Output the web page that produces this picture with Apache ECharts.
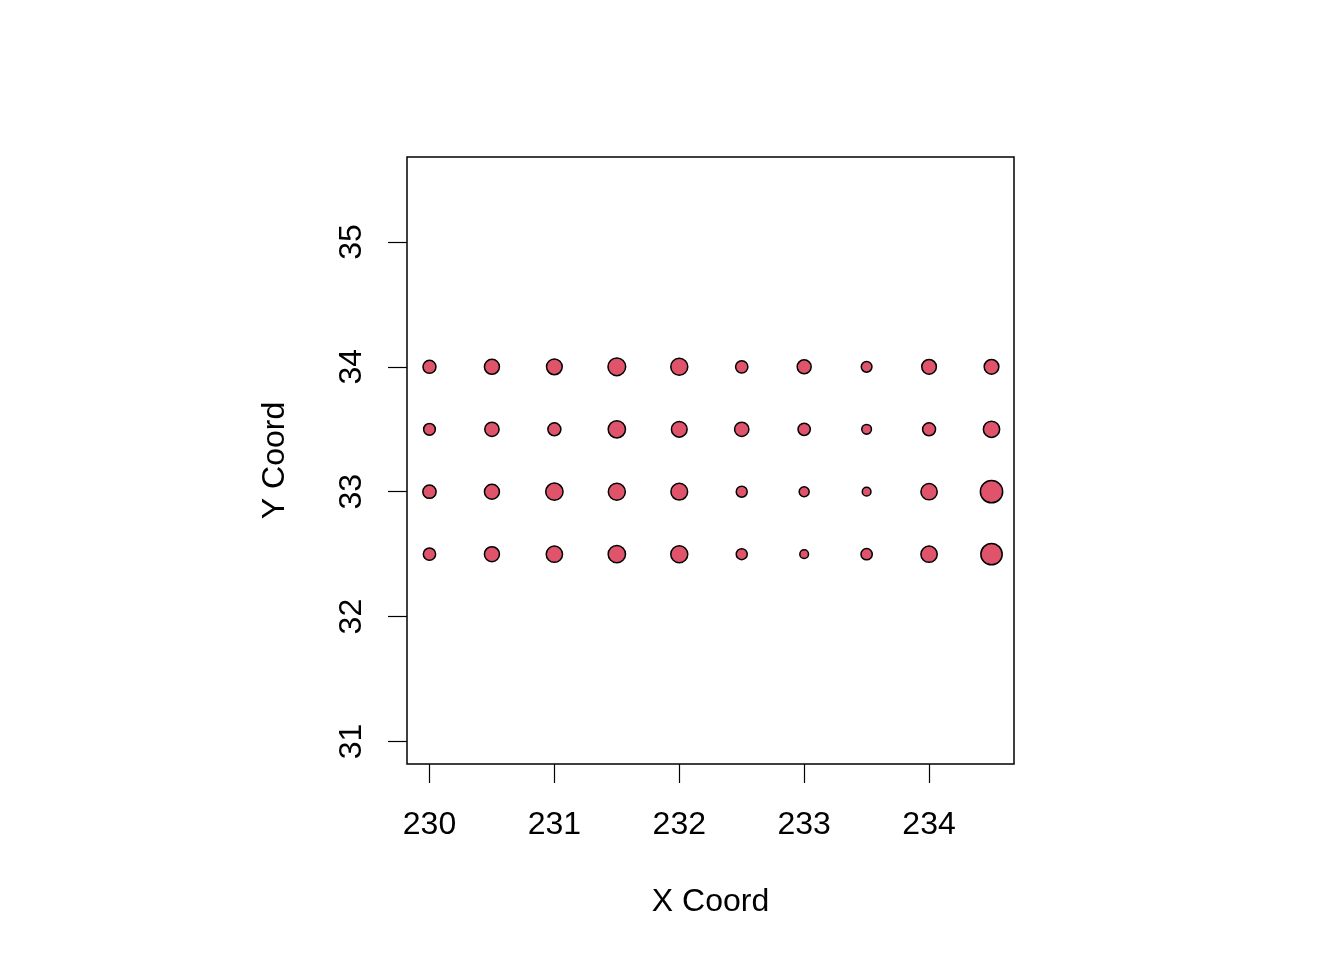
<!DOCTYPE html>
<html>
<head>
<meta charset="utf-8">
<script src="https://cdn.jsdelivr.net/npm/echarts@6/dist/echarts.min.js"></script>
<style>
html,body{margin:0;padding:0;background:#fff;}
#chart{width:1344px;height:960px;}
</style>
</head>
<body>
<div id="chart"></div>
<script>
// Data
const xCoords = [230, 230.5, 231, 231.5, 232, 232.5, 233, 233.5, 234, 234.5];
const yCoords = [34, 33.5, 33, 32.5];
const valuesY34   = [14.0, 16.0, 16.7, 18.7, 18.0, 13.3, 15.0, 11.7, 15.7, 15.7];
const valuesY33_5 = [12.7, 15.3, 14.0, 18.3, 16.7, 15.3, 13.3, 10.7, 14.0, 17.3];
const valuesY33   = [14.3, 16.0, 18.3, 18.0, 17.7, 12.0, 11.0, 9.7, 17.3, 23.3];
const valuesY32_5 = [13.3, 16.0, 17.3, 18.3, 18.0, 12.0, 9.7, 12.3, 17.3, 22.3];
const xTicks = [230, 231, 232, 233, 234];
const yTicks = [31, 32, 33, 34, 35];
const xLabel = 'X Coord';
const yLabel = 'Y Coord';

const rows = [valuesY34, valuesY33_5, valuesY33, valuesY32_5];
const points = [];
rows.forEach((vals, r) => {
  vals.forEach((v, i) => points.push([xCoords[i], yCoords[r], v]));
});

const font = '"Liberation Sans", Arial, Helvetica, sans-serif';
const chart = echarts.init(document.getElementById('chart'), null, {renderer: 'canvas'});
chart.setOption({
  backgroundColor: '#ffffff',
  animation: false,
  grid: {left: 407, right: 330, top: 157, bottom: 196, show: true, borderColor: '#000', borderWidth: 1.5, backgroundColor: 'transparent'},
  xAxis: {
    type: 'value', min: 229.82, max: 234.68,
    name: xLabel, nameLocation: 'middle', nameGap: 122,
    nameTextStyle: {fontFamily: font, fontSize: 32, color: '#000'},
    axisLine: {show: false},
    splitLine: {show: false},
    axisTick: {show: true, inside: false, length: 19, customValues: xTicks, lineStyle: {color: '#000', width: 1.2}},
    axisLabel: {show: true, margin: 45, customValues: xTicks, fontFamily: font, fontSize: 32, color: '#000'}
  },
  yAxis: {
    type: 'value', min: 30.82, max: 35.68,
    name: yLabel, nameLocation: 'middle', nameGap: 116, nameRotate: 90,
    nameTextStyle: {fontFamily: font, fontSize: 32, color: '#000'},
    axisLine: {show: false},
    splitLine: {show: false},
    axisTick: {show: true, inside: false, length: 19, customValues: yTicks, lineStyle: {color: '#000', width: 1.2}},
    axisLabel: {show: true, margin: 39, rotate: 90, customValues: yTicks, fontFamily: font, fontSize: 32, color: '#000'}
  },
  series: [{
    type: 'scatter',
    data: points,
    symbol: 'circle',
    symbolSize: d => d[2] - 1,
    itemStyle: {color: '#DF536B', borderColor: '#000', borderWidth: 1.5, opacity: 1}
  }]
});
</script>
</body>
</html>
